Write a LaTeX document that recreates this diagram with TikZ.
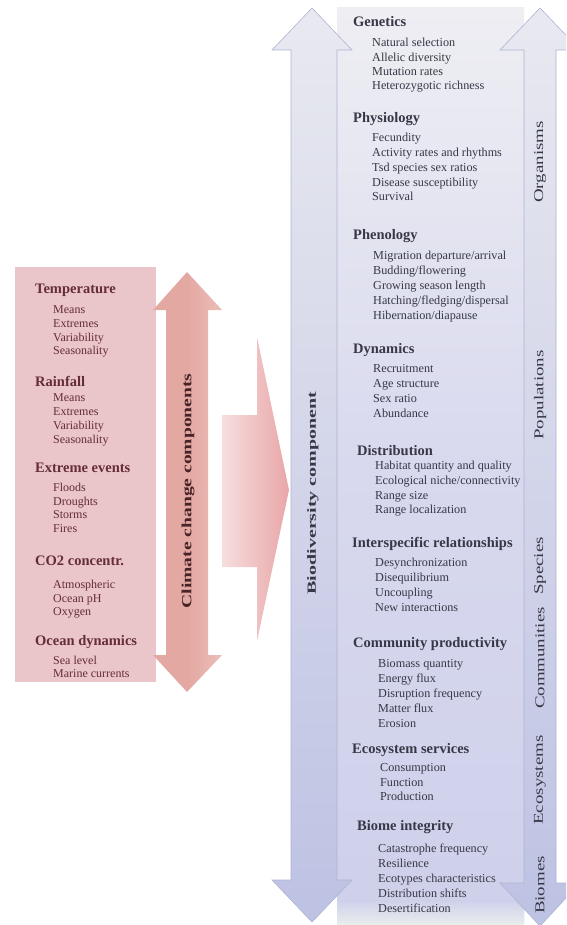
\documentclass[tikz,border=0pt]{standalone}
\usepackage{fontspec}
\setmainfont{Liberation Serif}
\definecolor{pinkpanel}{RGB}{234,197,201}
\definecolor{pinkarrow}{RGB}{228,168,162}
\definecolor{pinkarrowlight}{RGB}{236,190,184}
\definecolor{blockpink}{RGB}{233,166,168}
\definecolor{blockpinklight}{RGB}{246,222,222}
\definecolor{bluetop}{RGB}{232,233,240}
\definecolor{bluebot}{RGB}{190,194,227}
\definecolor{blueedge}{RGB}{175,179,212}
\definecolor{paneltop}{RGB}{238,238,243}
\definecolor{panelmid}{RGB}{216,217,238}
\definecolor{panelbot}{RGB}{206,208,235}
\definecolor{lefttext}{RGB}{100,45,55}
\definecolor{leftlabel}{RGB}{70,35,40}
\definecolor{righttext}{RGB}{55,55,70}
\tikzset{
  lhead/.style={anchor=base west, inner sep=0pt, text=lefttext, font=\fontsize{14.5}{16}\selectfont\bfseries},
  litem/.style={anchor=base west, inner sep=0pt, text=lefttext, font=\fontsize{12}{13}\selectfont},
  rhead/.style={anchor=base west, inner sep=0pt, text=righttext, font=\fontsize{14.5}{16}\selectfont\bfseries},
  ritem/.style={anchor=base west, inner sep=0pt, text=righttext, font=\fontsize{12.2}{13}\selectfont},
  vbig/.style={rotate=90, inner sep=0pt, anchor=center, font=\bfseries},
  vlevel/.style={rotate=90, inner sep=0pt, anchor=center, text=righttext, font=\fontsize{13.5}{15}\selectfont},
}
\begin{document}
\begin{tikzpicture}[x=1pt,y=-1pt]
\clip (0,0) rectangle (566,925);
\fill[white] (0,0) rectangle (566,925);
% ---------------- left climate panel
\fill[pinkpanel] (15,267) rectangle (156,682);
\shade[left color=pinkarrow, right color=pinkarrowlight, middle color=pinkarrow]
  (187,272) -- (222,310) -- (208,310) -- (208,655) -- (222,655) -- (187,692)
  -- (153,655) -- (166,655) -- (166,310) -- (153,310) -- cycle;
% block arrow
\shade[left color=blockpinklight, right color=blockpink]
  (222,415) -- (257,415) -- (257,337) -- (289,490) -- (257,641) -- (257,567) -- (222,567) -- cycle;
% ---------------- right biodiversity panel
\shade[top color=paneltop, bottom color=panelbot, middle color=panelmid] (337,8) rectangle (524,925);
\shade[top color=panelbot, bottom color={rgb,255:red,234;green,238;blue,236}] (337,900) rectangle (524,925);
\shade[top color=bluetop, bottom color=bluebot, draw=blueedge, line width=0.6pt]
  (312,8) -- (352,50) -- (337,50) -- (337,880) -- (352,880) -- (312,922)
  -- (272,880) -- (291,880) -- (291,50) -- (272,50) -- cycle;
\shade[top color=bluetop, bottom color=bluebot, draw=blueedge, line width=0.6pt]
  (540,8) -- (580,50) -- (556,50) -- (556,883) -- (580,883) -- (540,926)
  -- (500,883) -- (524,883) -- (524,50) -- (500,50) -- cycle;
% ---------------- rotated labels
\node[vbig, text=leftlabel, font=\fontsize{14}{16}\selectfont\bfseries] (ccc) at (188,491) {\scalebox{1.4}[1]{Climate change components}};
\node[vbig, text=righttext, font=\fontsize{12.5}{14}\selectfont\bfseries] (bdc) at (313,493) {\scalebox{1.6}[1]{Biodiversity component}};
\node[vlevel] (org) at (540,162) {\scalebox{1.4}[1]{Organisms}};
\node[vlevel] (pop) at (540,395) {\scalebox{1.4}[1]{Populations}};
\node[vlevel] (spe) at (540,566) {\scalebox{1.4}[1]{Species}};
\node[vlevel] (com) at (540,658) {\scalebox{1.4}[1]{Communities}};
\node[vlevel] (eco) at (540,780) {\scalebox{1.4}[1]{Ecosystems}};
\node[vlevel] (bio) at (540,885) {\scalebox{1.4}[1]{Biomes}};
% ---------------- left texts
\node[lhead] (t0) at (35,293) {Temperature};
\node[litem] (t1) at (53,313) {Means};
\node[litem] (t2) at (53,327) {Extremes};
\node[litem] (t3) at (53,341) {Variability};
\node[litem] (t4) at (53,354) {Seasonality};
\node[lhead] (r0) at (35,386) {Rainfall};
\node[litem] (r1) at (53,401) {Means};
\node[litem] (r2) at (53,415) {Extremes};
\node[litem] (r3) at (53,429) {Variability};
\node[litem] (r4) at (53,443) {Seasonality};
\node[lhead] (e0) at (35,472) {Extreme events};
\node[litem] (e1) at (53,491) {Floods};
\node[litem] (e2) at (53,505) {Droughts};
\node[litem] (e3) at (53,518) {Storms};
\node[litem] (e4) at (53,532) {Fires};
\node[lhead] (c0) at (35,565) {CO2 concentr.};
\node[litem] (c1) at (53,588) {Atmospheric};
\node[litem] (c2) at (53,602) {Ocean pH};
\node[litem] (c3) at (53,615) {Oxygen};
\node[lhead] (o0) at (35,645) {Ocean dynamics};
\node[litem] (o1) at (53,664) {Sea level};
\node[litem] (o2) at (53,677) {Marine currents};
% ---------------- right texts
\node[rhead] (g0) at (353,27) {Genetics};
\node[ritem] (g1) at (372,47) {Natural selection};
\node[ritem] (g2) at (372,62) {Allelic diversity};
\node[ritem] (g3) at (372,76) {Mutation rates};
\node[ritem] (g4) at (372,90) {Heterozygotic richness};
\node[rhead] (p0) at (353,123) {Physiology};
\node[ritem] (p1) at (372,142) {Fecundity};
\node[ritem] (p2) at (372,157) {Activity rates and rhythms};
\node[ritem] (p3) at (372,172) {Tsd species sex ratios};
\node[ritem] (p4) at (372,187) {Disease susceptibility};
\node[ritem] (p5) at (372,201) {Survival};
\node[rhead] (h0) at (353,240) {Phenology};
\node[ritem] (h1) at (373,259) {Migration departure/arrival};
\node[ritem] (h2) at (373,274) {Budding/flowering};
\node[ritem] (h3) at (373,289) {Growing season length};
\node[ritem] (h4) at (373,304) {Hatching/fledging/dispersal};
\node[ritem] (h5) at (373,319) {Hibernation/diapause};
\node[rhead] (d0) at (353,353) {Dynamics};
\node[ritem] (d1) at (373,372) {Recruitment};
\node[ritem] (d2) at (373,387) {Age structure};
\node[ritem] (d3) at (373,402) {Sex ratio};
\node[ritem] (d4) at (373,417) {Abundance};
\node[rhead] (s0) at (357,455) {Distribution};
\node[ritem] (s1) at (375,469) {Habitat quantity and quality};
\node[ritem] (s2) at (375,484) {Ecological niche/connectivity};
\node[ritem] (s3) at (375,499) {Range size};
\node[ritem] (s4) at (375,513) {Range localization};
\node[rhead] (i0) at (352,547) {Interspecific relationships};
\node[ritem] (i1) at (375,566) {Desynchronization};
\node[ritem] (i2) at (375,581) {Disequilibrium};
\node[ritem] (i3) at (375,596) {Uncoupling};
\node[ritem] (i4) at (375,611) {New interactions};
\node[rhead] (m0) at (353,647) {Community productivity};
\node[ritem] (m1) at (378,667) {Biomass quantity};
\node[ritem] (m2) at (378,682) {Energy flux};
\node[ritem] (m3) at (378,697) {Disruption frequency};
\node[ritem] (m4) at (378,712) {Matter flux};
\node[ritem] (m5) at (378,727) {Erosion};
\node[rhead] (v0) at (352,753) {Ecosystem services};
\node[ritem] (v1) at (380,771) {Consumption};
\node[ritem] (v2) at (380,786) {Function};
\node[ritem] (v3) at (380,800) {Production};
\node[rhead] (b0) at (357,830) {Biome integrity};
\node[ritem] (b1) at (378,852) {Catastrophe frequency};
\node[ritem] (b2) at (378,867) {Resilience};
\node[ritem] (b3) at (378,882) {Ecotypes characteristics};
\node[ritem] (b4) at (378,897) {Distribution shifts};
\node[ritem] (b5) at (378,912) {Desertification};
\end{tikzpicture}
\end{document}
